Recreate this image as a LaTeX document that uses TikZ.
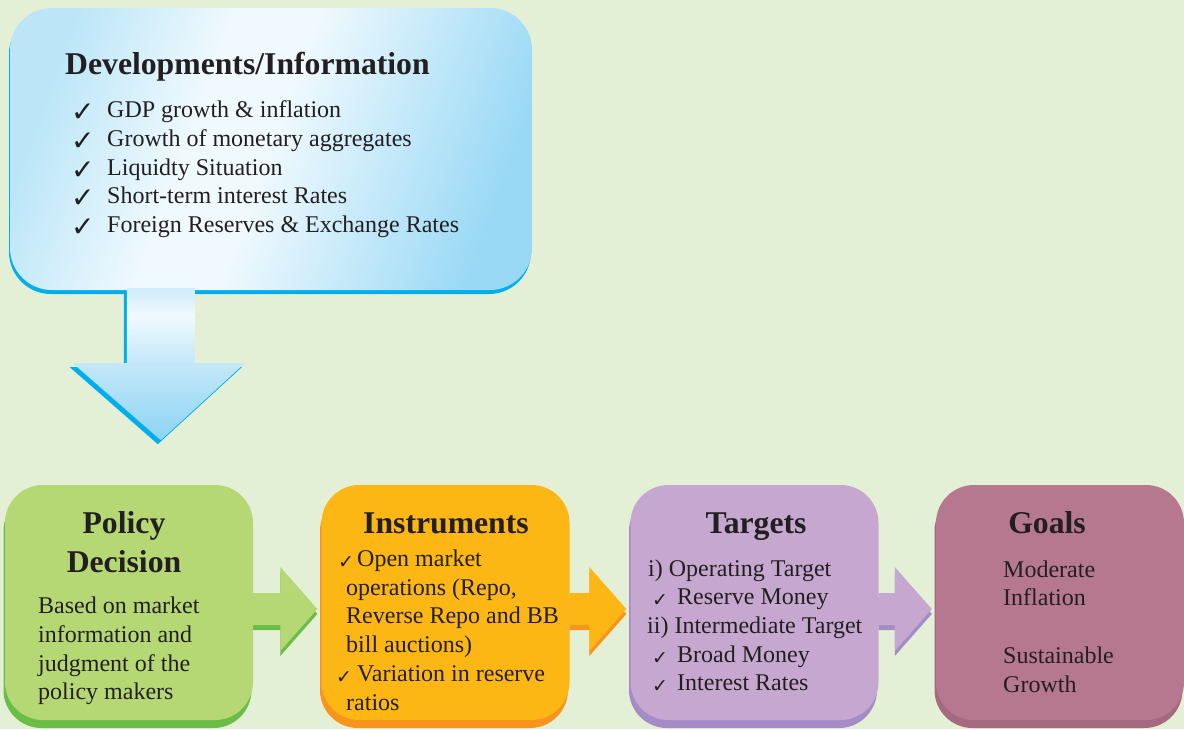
\documentclass[tikz,border=0pt]{standalone}
\usepackage{fontspec}
\setmainfont{Liberation Serif}
\newfontfamily\tickfont{DejaVu Sans}
\usepackage{graphicx}
\usetikzlibrary{calc,shadows}

\definecolor{bg}{HTML}{E3F0D6}
\definecolor{infoL}{HTML}{BCE6F8}
\definecolor{infoM}{HTML}{EFF9FE}
\definecolor{infoR}{HTML}{9AD9F5}
\definecolor{infoDark}{HTML}{00AEEF}
\definecolor{dropTop}{HTML}{CFECFA}
\definecolor{dropPale}{HTML}{F0F9FE}
\definecolor{dropMid}{HTML}{C3E7F8}
\definecolor{dropDeep}{HTML}{8CD4F4}
\definecolor{polFill}{HTML}{B5D774}
\definecolor{polDark}{HTML}{6CBD45}
\definecolor{insFill}{HTML}{FDB714}
\definecolor{insDark}{HTML}{F7941D}
\definecolor{tgtFill}{HTML}{C6A7D0}
\definecolor{tgtDark}{HTML}{A48DC7}
\definecolor{golFill}{HTML}{B5788F}
\definecolor{golDark}{HTML}{A56A80}
\definecolor{ink}{HTML}{231F20}

% soft diagonal glow for the information panel
\pgfdeclarehorizontalshading{infoshade}{100bp}{color(0bp)=(infoL); color(25bp)=(infoL);
  color(41bp)=(infoM); color(50bp)=(infoM); color(75bp)=(infoR); color(100bp)=(infoR)}
% pale-to-deep blue for the downward arrow
\pgfdeclareverticalshading{dropshade}{100bp}{color(0bp)=(dropDeep); color(25bp)=(dropDeep);
  color(50bp)=(dropMid); color(66bp)=(dropPale); color(75bp)=(dropTop); color(100bp)=(dropTop)}

% check mark at a given font size
\newcommand\tickmark[1]{{\tickfont\fontsize{#1}{#1}\selectfont ✓}}

% downward block arrow hanging from coordinate dA
\newcommand\dropShape[1]{%
  \path[#1] ($(dA)+(-34,0)$) -- ($(dA)+(34,0)$) -- ($(dA)+(34,75)$) -- ($(dA)+(84,75)$)
    -- ($(dA)+(0,152)$) -- ($(dA)+(-88,75)$) -- ($(dA)+(-34,75)$) -- cycle;}

% block arrow between two stage boxes
\newcommand\faShape[1]{%
  \fill[#1] ($(fa-s)+(0,-16)$) -- ($(fa-t)+(-37,-16)$) -- ($(fa-t)+(-37,-42)$) -- (fa-t)
    -- ($(fa-t)+(-37,42)$) -- ($(fa-t)+(-37,16)$) -- ($(fa-s)+(0,16)$) -- cycle;}
% #1 from node, #2 to node, #3 fill, #4 shadow colour
\newcommand\flowarrow[4]{%
  \coordinate (fa-s) at (#1.east |- rowmid);
  \coordinate (fa-t) at ($(#2.west |- rowmid)+(-4,0)$);
  \faShape{#4, transform canvas={yshift=-5pt}}
  \faShape{#3}}

\begin{document}
\begin{tikzpicture}[x=1pt,y=-1pt,
  panel/.style={rounded corners=42pt, inner sep=0pt, minimum width=522pt, minimum height=282pt,
    shading=infoshade, shading angle=-20,
    general shadow={fill=infoDark, shadow xshift=-1pt, shadow yshift=-4pt}},
  stage/.style={rounded corners=38pt, inner sep=0pt, minimum width=248pt, minimum height=235pt,
    fill=#1Fill, general shadow={fill=#1Dark, shadow xshift=-1.5pt, shadow yshift=-8pt}},
  heading/.style={font=\fontsize{31.7}{38}\selectfont\bfseries, text=ink, inner sep=0pt, anchor=base},
  body/.style={font=\fontsize{24}{28.7}\selectfont, text=ink, inner sep=0pt, anchor=base west},
  tick/.style={text=ink, inner sep=0pt, anchor=base west}]

\fill[bg] (0,0) rectangle (1184,729);
\useasboundingbox (0,0) rectangle (1184,729);
\coordinate (rowmid) at (0,609);

% information panel
\node[panel] (info) at (271,149) {};
\node[heading, anchor=base west] (infotitle) at (65,74) {Developments/Information};
\foreach \yy/\txt [count=\i] in {117/GDP growth \& inflation, 146/Growth of monetary aggregates,
    175/Liquidty Situation, 203/Short-term interest Rates, 232/Foreign Reserves \& Exchange Rates} {
  \node[tick] (infotick\i) at (71,\yy+4) {\tickmark{28}};
  \node[body] (infoitem\i) at (107,\yy) {\txt};
}

% downward arrow out of the panel
\coordinate (dA) at ($(info.south west)+(151,-2)$);
\dropShape{fill=infoDark, transform canvas={xshift=-3pt, yshift=-4pt}}
\dropShape{shading=dropshade}

% stage boxes
\node[stage=pol] (pol) at (129,602.5) {};
\node[stage=ins] (ins) at (445.5,602.5) {};
\node[stage=tgt] (tgt) at (754.5,602.5) {};
\node[stage=gol] (gol) at (1060,602.5) {};

% arrows between stages
\flowarrow{pol}{ins}{polFill}{polDark}
\flowarrow{ins}{tgt}{insFill}{insDark}
\flowarrow{tgt}{gol}{tgtFill}{tgtDark}

% Policy Decision
\node[heading] (poltitleA) at (124,533) {Policy};
\node[heading] (poltitleB) at (124,572) {Decision};
\node[body] (polA) at (38,613) {Based on market};
\node[body] (polB) at (38,642) {information and};
\node[body] (polC) at (38,671) {judgment of the};
\node[body] (polD) at (38,699) {policy makers};

% Instruments
\node[heading] (institle) at (446,533) {Instruments};
\node[tick] (instickA) at (338,568) {\tickmark{19}};
\node[body] (insA) at (357,566) {Open market};
\node[body] (insB) at (346,595) {operations (Repo,};
\node[body] (insC) at (346,623) {Reverse Repo and BB};
\node[body] (insD) at (346,652) {bill auctions)};
\node[tick] (instickB) at (336,683) {\tickmark{19}};
\node[body] (insE) at (357,681) {Variation in reserve};
\node[body] (insF) at (346,710) {ratios};

% Targets
\node[heading] (tgttitle) at (756,533) {Targets};
\node[body] (tgtA) at (648,576) {i) Operating Target};
\node[tick] (tgttickA) at (652,606) {\tickmark{19}};
\node[body] (tgtB) at (677,604) {Reserve Money};
\node[body] (tgtC) at (647,633) {ii) Intermediate Target};
\node[tick] (tgttickB) at (652,664) {\tickmark{19}};
\node[body] (tgtD) at (677,662) {Broad Money};
\node[tick] (tgttickC) at (652,692) {\tickmark{19}};
\node[body] (tgtE) at (677,690) {Interest Rates};

% Goals
\node[heading] (goltitle) at (1047,533) {Goals};
\node[body] (golA) at (1003,577) {Moderate};
\node[body] (golB) at (1003,605) {Inflation};
\node[body] (golC) at (1003,663) {Sustainable};
\node[body] (golD) at (1003,692) {Growth};
\end{tikzpicture}
\end{document}
